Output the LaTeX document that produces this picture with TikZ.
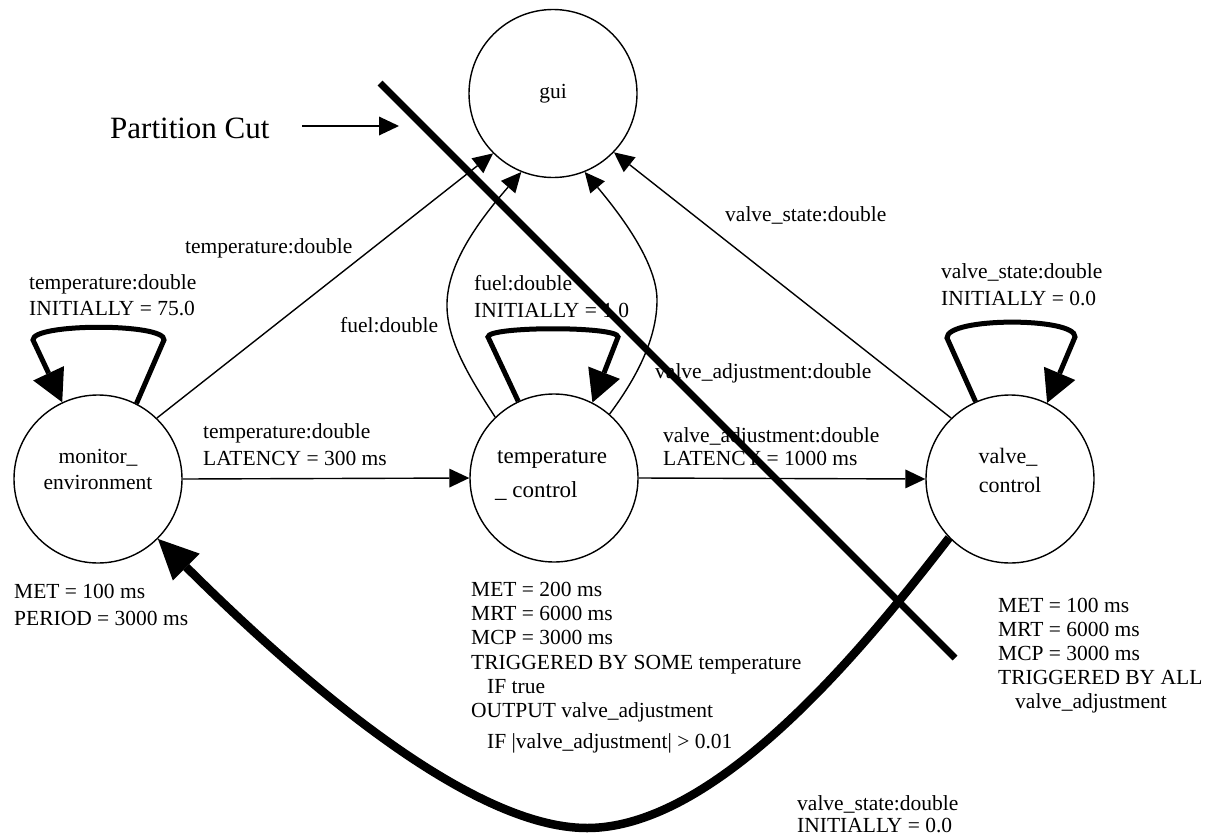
\documentclass[tikz,border=0pt]{standalone}
\usepackage{fontspec}
\setmainfont{Liberation Serif}
\usetikzlibrary{arrows.meta}
\newcommand\lbltext[4]{\node[lbl] (#1) at (#2,#3) {#4};}
\begin{document}
\begin{tikzpicture}[x=1pt,y=-1pt,
  lbl/.style={inner sep=0pt, anchor=base west, font=\fontsize{21.5}{24}\selectfont},
  lblc/.style={inner sep=0pt, anchor=base, font=\fontsize{21.5}{24}\selectfont},
  proc/.style={circle, draw, line width=1.4pt, minimum size=168pt, inner sep=0pt, font=\fontsize{21.5}{24}\selectfont},
  thinedge/.style={line width=1.4pt, -{Triangle[length=20pt,width=19pt,line width=0pt]}},
  loopedge/.style={line width=5pt, -{Triangle[length=32pt,width=34pt,line width=0pt]}},
  bigedge/.style={line width=8.5pt, -{Triangle[length=40pt,width=38pt,line width=0pt]}},
  cutline/.style={line width=7pt}]
\useasboundingbox (0,0) rectangle (1210,835);

% processes
\node[proc] (gui) at (553,93.5) {gui};
\node[proc] (me) at (98,479) {};
\node[proc] (tc) at (554,478) {};
\node[proc] (vc) at (1010,479) {};

% texts inside circles
\node[lblc] (meT1) at (98,463) {monitor\_};
\node[lblc] (meT2) at (98,489) {environment};
\node[lbl, font=\fontsize{23}{26}\selectfont] (tcT1) at (497,463) {temperature};
\node[lbl, font=\fontsize{23}{26}\selectfont] (tcT2) at (495,497) {\_ control};
\node[lblc, font=\fontsize{22}{26}\selectfont] (vcT1) at (1008,463) {valve\_};
\node[lblc, font=\fontsize{22}{26}\selectfont] (vcT2) at (1010,492) {control};

% thin edges
\draw[thinedge] (me.46) -- (gui.225);
\draw[thinedge] (vc.134) -- (gui.316);
\draw[thinedge] (me.east) -- (tc.west);
\draw[thinedge] (tc.east) -- (vc.west);
\draw[thinedge] (tc.134) .. controls (470,378) and (446,340) .. (447,303)
   .. controls (448,265) and (475,225) .. (gui.248);
\draw[thinedge] (tc.49) .. controls (635,380) and (657,340) .. (657,300)
   .. controls (657,265) and (625,220) .. (gui.292);

% self loops
\draw[loopedge] (me.63) -- (164,340) .. controls (166,323) and (32,323) .. (33,340) -- (me.115);
\draw[loopedge] (tc.115) -- (488,337) .. controls (487,326) and (619,326) .. (618,337) -- (tc.63);
\draw[loopedge] (vc.114) -- (947,338) .. controls (946,317) and (1076,317) .. (1075,337) -- (vc.64);

% big feedback edge
\draw[bigedge] (vc.224) .. controls (870,640) and (720,828) .. (587,828)
   .. controls (470,828) and (300,680) .. (me.315);

% labels
\lbltext{lTemp}{185}{253}{temperature:double}
\lbltext{lVs}{725}{221}{valve\_state:double}
\lbltext{lFuel}{340}{332}{fuel:double}
\lbltext{lVadj}{655}{378}{valve\_adjustment:double}

\lbltext{meL1}{29}{289}{temperature:double}
\lbltext{meL2}{29}{315}{INITIALLY = 75.0}
\lbltext{tcL1}{474}{290}{fuel:double}
\lbltext{tcL2}{474}{317}{INITIALLY = 1.0}
\lbltext{vcL1}{941}{278}{valve\_state:double}
\lbltext{vcL2}{941}{305}{INITIALLY = 0.0}

\lbltext{mtL1}{203}{438}{temperature:double}
\lbltext{mtL2}{203}{465}{LATENCY = 300 ms}
\lbltext{tvL1}{663}{442}{valve\_adjustment:double}
\lbltext{tvL2}{663}{465}{LATENCY = 1000 ms}

\lbltext{meI1}{14}{598}{MET = 100 ms}
\lbltext{meI2}{14}{625}{PERIOD = 3000 ms}

\lbltext{tcI1}{471}{596}{MET = 200 ms}
\lbltext{tcI2}{471}{620}{MRT = 6000 ms}
\lbltext{tcI3}{471}{644}{MCP = 3000 ms}
\lbltext{tcI4}{471}{669}{TRIGGERED BY SOME temperature}
\lbltext{tcI5}{487}{693}{IF true}
\lbltext{tcI6}{471}{717}{OUTPUT valve\_adjustment}
\lbltext{tcI7}{487}{748}{IF |valve\_adjustment| > 0.01}

\lbltext{vcI1}{998}{612}{MET = 100 ms}
\lbltext{vcI2}{998}{636}{MRT = 6000 ms}
\lbltext{vcI3}{998}{660}{MCP = 3000 ms}
\lbltext{vcI4}{998}{684}{TRIGGERED BY ALL}
\lbltext{vcI5}{1015}{708}{valve\_adjustment}

\lbltext{bL1}{797}{810}{valve\_state:double}
\lbltext{bL2}{797}{832}{INITIALLY = 0.0}

% partition cut
\node[lbl, font=\fontsize{31}{36}\selectfont] (pcut) at (110,138) {Partition Cut};
\coordinate (pcStart) at (302,126);
\coordinate (pcTip) at (399,126);
\draw[thinedge] (pcStart) -- (pcTip);
\coordinate (cutA) at (380,83);
\coordinate (cutB) at (955,658);
\draw[cutline] (cutA) -- (cutB);
\end{tikzpicture}
\end{document}
